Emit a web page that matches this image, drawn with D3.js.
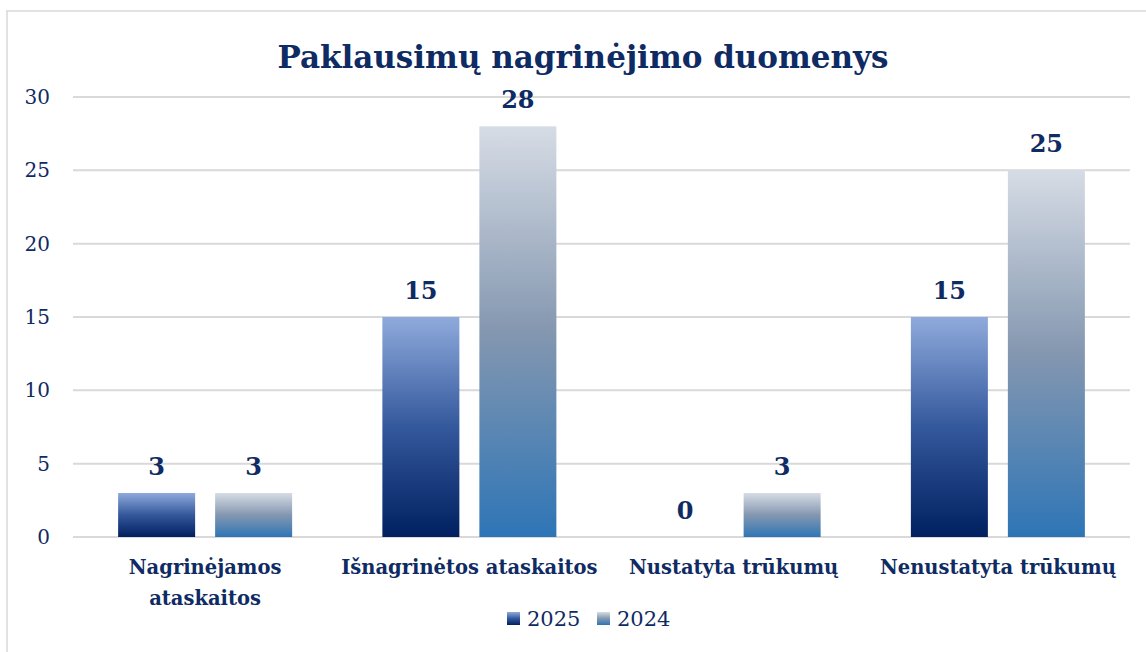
<!DOCTYPE html>
<html>
<head>
<meta charset="utf-8">
<script src="https://cdn.jsdelivr.net/npm/d3@7"></script>
<style>
  body{margin:0;background:#fff;}
  text{font-family:"DejaVu Serif", serif;}
</style>
</head>
<body>
<div id="chart"></div>
<script>
const categories=[["Nagrinėjamos","ataskaitos"],["Išnagrinėtos ataskaitos"],["Nustatyta trūkumų"],["Nenustatyta trūkumų"]];
const seriesNames=["2025","2024"];
const values2025=[3,15,0,15];
const values2024=[3,28,3,25];
const yTicks=[0,5,10,15,20,25,30];

const w=1146, h=652;
const plotLeft=73, plotRight=1130, plotTop=97, plotBottom=537;
const textColor="#0f2b63";

const svg=d3.select("#chart").append("svg").attr("width",w).attr("height",h);
const defs=svg.append("defs");

const g25=defs.append("linearGradient").attr("id","g2025").attr("x1",0).attr("y1",0).attr("x2",0).attr("y2",1);
g25.append("stop").attr("offset","0%").attr("stop-color","#8faadc");
g25.append("stop").attr("offset","50%").attr("stop-color","#34589c");
g25.append("stop").attr("offset","100%").attr("stop-color","#002060");
const g24=defs.append("linearGradient").attr("id","g2024").attr("x1",0).attr("y1",0).attr("x2",0).attr("y2",1);
g24.append("stop").attr("offset","0%").attr("stop-color","#d6dce5");
g24.append("stop").attr("offset","50%").attr("stop-color","#8497b0");
g24.append("stop").attr("offset","100%").attr("stop-color","#2e75b6");
const fills=["url(#g2025)","url(#g2024)"];

// frame
svg.append("rect").attr("x",7).attr("y",11).attr("width",1150).attr("height",660)
   .attr("fill","none").attr("stroke","#d9d9d9").attr("stroke-width",1.5);

const x0=d3.scaleBand().domain(d3.range(categories.length)).range([plotLeft,plotRight]);
const groupW=174;
const x1=d3.scaleBand().domain(seriesNames).range([0,groupW]).paddingInner(40/194).paddingOuter(0);
const y=d3.scaleLinear().domain([0,30]).range([plotBottom,plotTop]);

// gridlines
svg.append("g").selectAll("line").data(yTicks).join("line")
   .attr("x1",plotLeft).attr("x2",plotRight)
   .attr("y1",d=>y(d)).attr("y2",d=>y(d))
   .attr("stroke","#d9d9d9").attr("stroke-width",2);

// y axis labels
const yAxis=d3.axisLeft(y).tickValues(yTicks).tickSize(0).tickPadding(0);
const ya=svg.append("g").attr("transform","translate(50,0)").call(yAxis);
ya.select(".domain").remove();
ya.selectAll("text").attr("font-family","DejaVu Serif, serif").attr("font-size",20).attr("fill",textColor);

const series=[values2025,values2024];
const bars=[];
categories.forEach((c,i)=>{
  series.forEach((vals,s)=>bars.push({cat:i,s:s,v:vals[i]}));
});
const gx=d=>x0(d.cat)+(x0.bandwidth()-groupW)/2+x1(seriesNames[d.s]);

svg.append("g").selectAll("rect").data(bars).join("rect")
   .attr("x",gx).attr("width",x1.bandwidth())
   .attr("y",d=>y(d.v)).attr("height",d=>y(0)-y(d.v))
   .attr("fill",d=>fills[d.s]);

// data labels
svg.append("g").selectAll("text").data(bars).join("text")
   .attr("x",d=>gx(d)+x1.bandwidth()/2)
   .attr("y",d=>y(d.v)-18)
   .attr("text-anchor","middle")
   .attr("font-weight","bold").attr("font-size",24).attr("fill",textColor)
   .text(d=>d.v);

// category labels
categories.forEach((lines,i)=>{
  const cx=x0(i)+x0.bandwidth()/2;
  const t=svg.append("text").attr("text-anchor","middle")
     .attr("x",cx).attr("y",574)
     .attr("font-weight","bold").attr("font-size",19.5).attr("fill",textColor);
  lines.forEach((l,k)=>t.append("tspan").attr("x",cx).attr("dy",k?31:0).text(l));
});

// title
svg.append("text").attr("x",583).attr("y",68).attr("text-anchor","middle")
   .attr("font-weight","bold").attr("font-size",31).attr("fill",textColor)
   .text("Paklausimų nagrinėjimo duomenys");

// legend
const legendX=[507,597];
seriesNames.forEach((n,s)=>{
  svg.append("rect").attr("x",legendX[s]).attr("y",612).attr("width",13).attr("height",13).attr("fill",fills[s]);
  svg.append("text").attr("x",legendX[s]+20).attr("y",626).attr("font-size",21).attr("fill",textColor).text(n);
});
</script>
</body>
</html>
